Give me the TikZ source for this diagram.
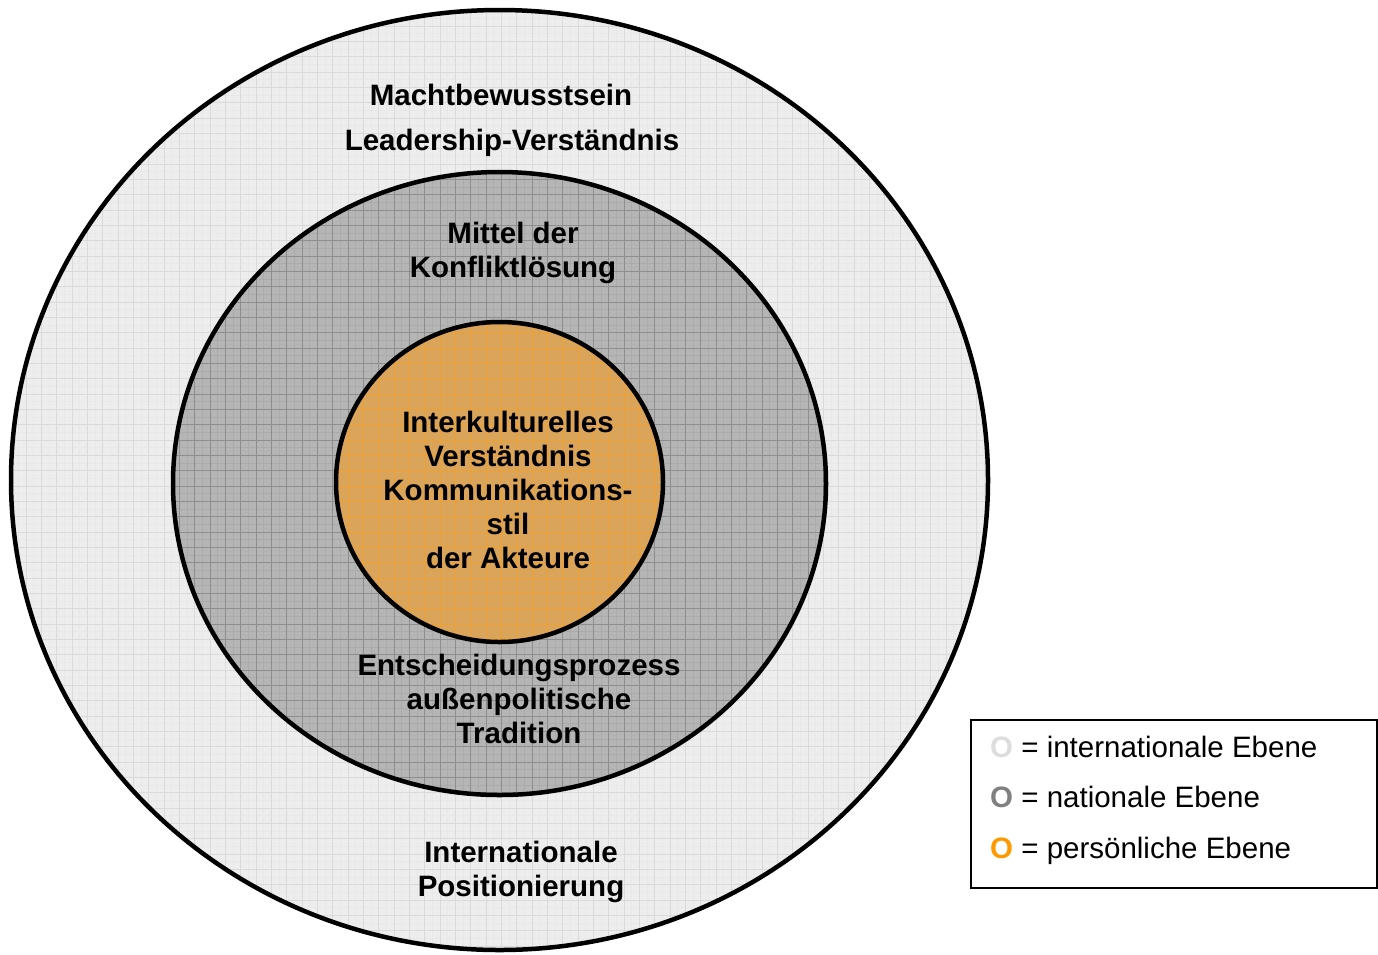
\documentclass[tikz,border=0pt]{standalone}
\usepackage{fontspec}
\setmainfont{Liberation Sans}
\usetikzlibrary{positioning}
\definecolor{intfill}{HTML}{EDEDED}
\definecolor{intgrid}{HTML}{DADADA}
\definecolor{natfill}{HTML}{B5B5B5}
\definecolor{natgrid}{HTML}{8E8E8E}
\definecolor{persfill}{HTML}{D9A45C}
\definecolor{persgrid}{HTML}{EEA030}
\definecolor{intmark}{HTML}{DDDDDD}
\definecolor{natmark}{HTML}{808080}
\definecolor{persmark}{HTML}{FF9900}
\tikzset{
	x=1pt, y=-1pt, % one unit is one pixel of the layout, y runs downwards
	ring/.style={line width=4.5pt, draw=black}, % outline of each level
	levellabel/.style={font=\bfseries\fontsize{29.5}{34}\selectfont, align=center, inner sep=0pt}, % texts inside the levels
	legendentry/.style={font=\fontsize{29.5}{34}\selectfont, anchor=base west, inner sep=0pt}, % lines of the legend
}
\begin{document}
\begin{tikzpicture}
	\useasboundingbox (0,0) rectangle (1378,954);
	% levels: centre y / x radius / y radius / fill / grid
	\foreach \cy/\rx/\ry/\fillc/\gridc in {480/488.5/470/intfill/intgrid, 483.5/326.5/311.5/natfill/natgrid, 482/163.5/160/persfill/persgrid}{
		\fill[\fillc] (499.5,\cy) ellipse [x radius=\rx, y radius=\ry];
		\begin{scope}
			\clip (499.5,\cy) ellipse [x radius=\rx, y radius=\ry];
			\begin{scope}[shift={(10.7,10.7)}]
				\draw[\gridc!25!\fillc, line width=0.6pt, step=7.667pt] (-20,-20) grid (1000,960);
				\draw[\gridc, line width=0.8pt, step=15.333pt] (-20,-20) grid (1000,960);
			\end{scope}
		\end{scope}
		\draw[ring] (499.5,\cy) ellipse [x radius=\rx, y radius=\ry];
	}
	
	\node[levellabel] (macht) at (501,95) {Machtbewusstsein};
	\node[levellabel] (leader) at (512,143) {Leadership-Verständnis};
	\node[levellabel] (mittel) at (513,253) {Mittel der\\Konfliktlösung};
	\node[levellabel] (interkult) at (508,490) {Interkulturelles\\Verständnis\\Kommunikations-\\stil\\der Akteure};
	\node[levellabel] (entscheid) at (519,699) {Entscheidungsprozess\\außenpolitische\\Tradition};
	\node[levellabel] (position) at (521,872) {Internationale\\Positionierung};
	
	\node[draw, line width=2pt, minimum width=406pt, minimum height=168pt, anchor=north west] (legendbox) at (970,719) {};
	\node[legendentry] (legint) at (990,757) {\textcolor{intmark}{\bfseries O} = internationale Ebene};
	\node[legendentry] (legnat) at (990,807) {\textcolor{natmark}{\bfseries O} = nationale Ebene};
	\node[legendentry] (legpers) at (990,858) {\textcolor{persmark}{\bfseries O} = persönliche Ebene};
\end{tikzpicture}
\end{document}
